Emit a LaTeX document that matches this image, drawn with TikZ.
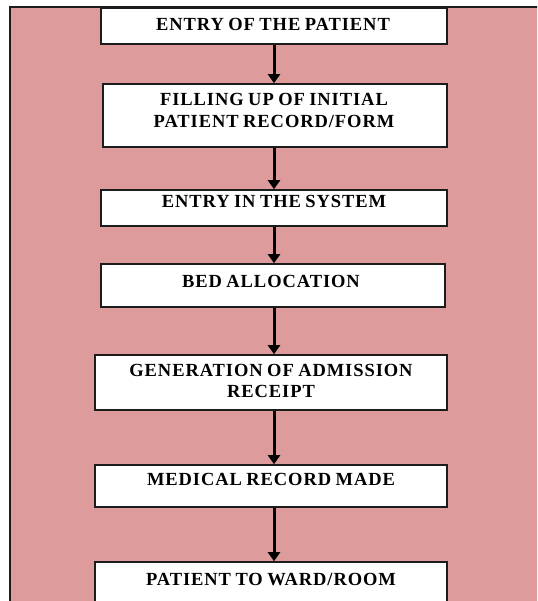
\documentclass[tikz,border=0pt]{standalone}
\usepackage{fontspec}
\setmainfont{Liberation Serif}
\newfontfamily\stagefont[LetterSpace=5,WordSpace=0.8]{Liberation Serif}
\usetikzlibrary{arrows.meta}
\definecolor{panelpink}{RGB}{221,155,155}
\definecolor{edge}{RGB}{28,28,28}
\tikzset{
  stage/.style={draw=edge, line width=1.6pt, fill=white, rectangle, inner sep=0pt},
  caption/.style={font=\stagefont\bfseries\fontsize{18.5}{21.5}\selectfont, align=center,
    text=black, inner sep=0pt, anchor=base},
  flow/.style={line width=3pt, draw=black, -{Triangle[width=12pt,length=9pt]}},
}
\begin{document}
\begin{tikzpicture}[x=1pt,y=-1pt]
\useasboundingbox (0,0) rectangle (537,601);
\clip (0,0) rectangle (537,601);
% background panel
\draw[fill=panelpink, draw=edge, line width=1.8pt] (10,7) rectangle (570,650);
% process stages
\node[stage, minimum width=346pt, minimum height=36pt] (b1) at (274,26) {};
\node[stage, minimum width=344pt, minimum height=63pt] (b2) at (275,115.5) {};
\node[stage, minimum width=346pt, minimum height=36pt] (b3) at (274,208) {};
\node[stage, minimum width=344pt, minimum height=43pt] (b4) at (273,285.5) {};
\node[stage, minimum width=352pt, minimum height=55pt] (b5) at (271,382.5) {};
\node[stage, minimum width=352pt, minimum height=42pt] (b6) at (271,486) {};
\node[stage, minimum width=352pt, minimum height=80pt] (b7) at (271,602) {};
% captions (base anchor sits on the last line)
\node[caption] (t1) at (273,31) {ENTRY OF THE PATIENT};
\node[caption] (t2) at (274,127.5) {FILLING UP OF INITIAL\\PATIENT RECORD/FORM};
\node[caption] (t3) at (274,208) {ENTRY IN THE SYSTEM};
\node[caption] (t4) at (271,287.5) {BED ALLOCATION};
\node[caption] (t5) at (271,397.5) {GENERATION OF ADMISSION\\RECEIPT};
\node[caption] (t6) at (271,485.5) {MEDICAL RECORD MADE};
\node[caption] (t7) at (271,585.5) {PATIENT TO WARD/ROOM};
% connectors
\draw[flow] (b1.south -| 274,0) -- (b2.north -| 274,0);
\draw[flow] (b2.south -| 274,0) -- (b3.north -| 274,0);
\draw[flow] (b3.south -| 274,0) -- (b4.north -| 274,0);
\draw[flow] (b4.south -| 274,0) -- (b5.north -| 274,0);
\draw[flow] (b5.south -| 274,0) -- (b6.north -| 274,0);
\draw[flow] (b6.south -| 274,0) -- (b7.north -| 274,0);
\end{tikzpicture}
\end{document}
